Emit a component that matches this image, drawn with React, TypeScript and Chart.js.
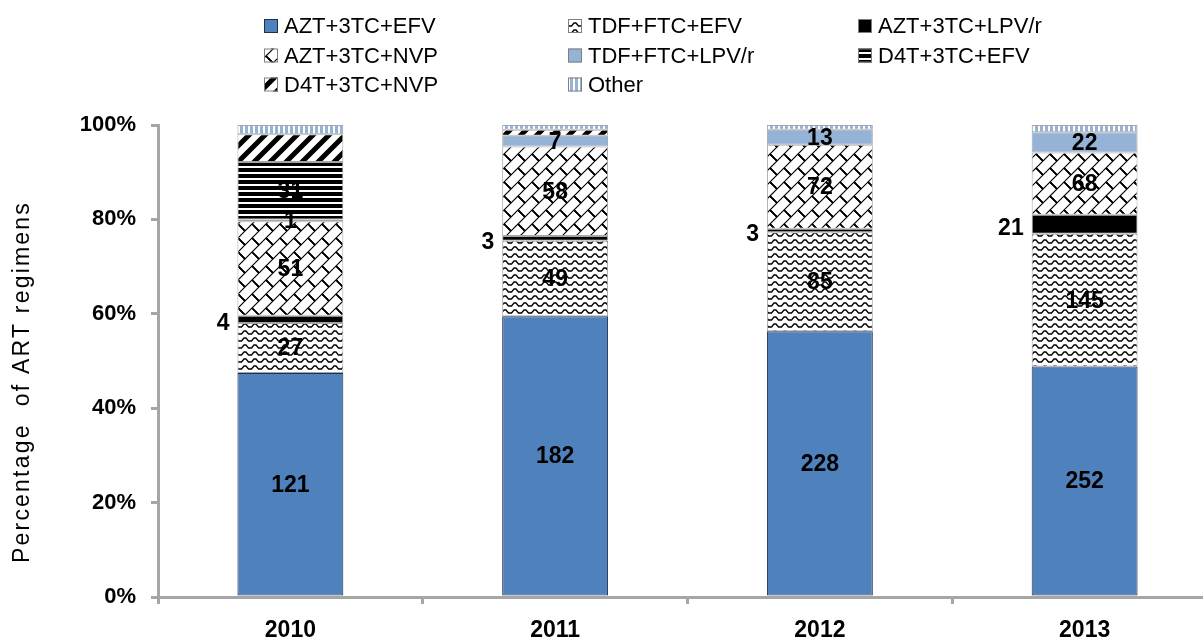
import React, { useEffect, useRef } from "react";
import { Chart, registerables } from "chart.js";

Chart.register(...registerables);

// ---- data ----
const years = ["2010", "2011", "2012", "2013"];
const regimens = [
  "AZT+3TC+EFV",
  "TDF+FTC+EFV",
  "AZT+3TC+LPV/r",
  "AZT+3TC+NVP",
  "TDF+FTC+LPV/r",
  "D4T+3TC+EFV",
  "D4T+3TC+NVP",
  "Other",
];
const aztEfv = [121, 182, 228, 252];
const tdfEfv = [27, 49, 85, 145];
const aztLpv = [4, 3, 3, 21];
const aztNvp = [51, 58, 72, 68];
const tdfLpv = [1, 7, 13, 22];
const d4tEfv = [31, 0, 0, 0];
const d4tNvp = [15, 4, 0, 0];
const other = [5, 3, 4, 8];
const yTicks = [0, 20, 40, 60, 80, 100];
// series whose counts are printed on the bars
const showCount = [true, true, true, true, true, true, false, false];

const counts = [aztEfv, tdfEfv, aztLpv, aztNvp, tdfLpv, d4tEfv, d4tNvp, other];
const totals = years.map((_, j) => counts.reduce((s, arr) => s + arr[j], 0));
const percents = counts.map((arr) => arr.map((v, j) => (v / totals[j]) * 100));

const FONT = '"Liberation Sans", Arial, sans-serif';
const BLUE = "#4F81BD";
const LIGHT = "#95B3D7";

function makePattern(w: number, h: number, draw: (c: CanvasRenderingContext2D) => void) {
  const cv = document.createElement("canvas");
  cv.width = w;
  cv.height = h;
  const c = cv.getContext("2d") as CanvasRenderingContext2D;
  c.fillStyle = "#fff";
  c.fillRect(0, 0, w, h);
  draw(c);
  return c.createPattern(cv, "repeat") as CanvasPattern;
}

function wrapped(c: CanvasRenderingContext2D, w: number, h: number, seg: () => void) {
  for (const dx of [-w, 0, w]) {
    for (const dy of [-h, 0, h]) {
      c.save();
      c.translate(dx, dy);
      seg();
      c.restore();
    }
  }
}

function buildFills() {
  const wave = makePattern(10, 7, (c) => {
    c.strokeStyle = "#000";
    c.lineWidth = 1.3;
    wrapped(c, 10, 7, () => {
      c.beginPath();
      c.moveTo(0, 5);
      c.lineTo(1.5, 5);
      c.lineTo(4, 2);
      c.lineTo(6, 2);
      c.lineTo(8.5, 5);
      c.lineTo(10, 5);
      c.stroke();
    });
  });
  const U = 14;
  const T = U * 2;
  const brick = makePattern(T, T, (c) => {
    c.strokeStyle = "#000";
    c.lineWidth = 1.2;
    c.beginPath();
    for (let k = -U; k <= 2 * T + U; k += U) {
      c.moveTo(k + 2, -2);
      c.lineTo(-2, k + 2);
    }
    c.stroke();
    wrapped(c, T, T, () => {
      c.beginPath();
      for (let r = 0; r < 4; r++) {
        const v0 = r * U;
        for (let m = -3; m <= 3; m++) {
          const u = (r % 2) * (U / 2) + U * m;
          const sx = v0 / 2 + u;
          const sy = v0 / 2 - u;
          c.moveTo(sx, sy);
          c.lineTo(sx + U / 2, sy + U / 2);
        }
      }
      c.stroke();
    });
  });
  const hstripe = makePattern(6, 6, (c) => {
    c.fillStyle = "#000";
    c.fillRect(0, 0, 6, 4);
  });
  const wdiag = makePattern(16, 16, (c) => {
    c.strokeStyle = "#000";
    c.lineWidth = 5;
    c.beginPath();
    for (let k = -16; k <= 48; k += 16) {
      c.moveTo(k + 4, -4);
      c.lineTo(-4, k + 4);
    }
    c.stroke();
  });
  const vstripe = makePattern(5, 5, (c) => {
    c.fillStyle = LIGHT;
    c.fillRect(0, 0, 3, 5);
  });
  return [BLUE, wave, "#000", brick, LIGHT, hstripe, wdiag, vstripe];
}

const borderColors = ["#1F2F45", "#A6A6A6", "#A6A6A6", "#A6A6A6", "#A6A6A6", "#A6A6A6", "#A6A6A6", "#A6A6A6"];

export default function App() {
  const ref = useRef<HTMLCanvasElement | null>(null);

  useEffect(() => {
    if (!ref.current) return;
    const fills = buildFills();

    const overlay = {
      id: "overlay",
      afterDatasetsDraw(chart: any) {
        const ctx = chart.ctx as CanvasRenderingContext2D;
        ctx.save();
        ctx.font = `bold 23px ${FONT}`;
        ctx.fillStyle = "#000";
        ctx.textBaseline = "middle";
        chart.data.datasets.forEach((_: any, i: number) => {
          if (!showCount[i]) return;
          const meta = chart.getDatasetMeta(i);
          meta.data.forEach((bar: any, j: number) => {
            const v = counts[i][j];
            if (!v) return;
            const p = bar.getProps(["x", "y", "base", "width"], true);
            const cy = (p.y + p.base) / 2;
            if (i === 2) {
              ctx.textAlign = "right";
              ctx.fillText(String(v), p.x - p.width / 2 - 8, cy + 4);
            } else {
              ctx.textAlign = "center";
              ctx.fillText(String(v), p.x, cy + 1);
            }
          });
        });
        ctx.restore();
      },
      afterDraw(chart: any) {
        const ctx = chart.ctx as CanvasRenderingContext2D;
        ctx.save();
        // legend
        const colX = [264, 568, 858];
        const rowY = [26, 55.5, 84.5];
        ctx.font = `22px ${FONT}`;
        ctx.textBaseline = "middle";
        ctx.textAlign = "left";
        regimens.forEach((name, i) => {
          const x = colX[i % 3];
          const y = rowY[Math.floor(i / 3)];
          ctx.fillStyle = fills[i] as any;
          ctx.fillRect(x, y - 7, 14, 14);
          ctx.strokeStyle = i === 0 ? "#1F2F45" : "#7F7F7F";
          ctx.lineWidth = 1;
          ctx.strokeRect(x + 0.5, y - 6.5, 13, 13);
          ctx.fillStyle = "#000";
          ctx.fillText(name, x + 20, y + 1);
        });
        // y-axis title
        ctx.translate(23, 382);
        ctx.rotate(-Math.PI / 2);
        ctx.font = `23px ${FONT}`;
        (ctx as any).letterSpacing = "2.2px";
        ctx.textAlign = "center";
        ctx.fillStyle = "#000";
        ctx.fillText("Percentage  of ART regimens", 0, 0);
        ctx.restore();
      },
    };

    const chart = new Chart(ref.current, {
      type: "bar",
      data: {
        labels: years,
        datasets: regimens.map((name, i) => ({
          label: name,
          data: percents[i],
          backgroundColor: fills[i] as any,
          borderColor: borderColors[i],
          borderWidth: 1,
          borderSkipped: false,
          barPercentage: 0.4,
          categoryPercentage: 1,
        })),
      },
      options: {
        animation: false,
        responsive: true,
        maintainAspectRatio: false,
        devicePixelRatio: 1,
        layout: { padding: { top: 125, right: 3, left: 0, bottom: 0 } },
        plugins: {
          legend: { display: false },
          tooltip: { enabled: false },
          title: { display: false },
        },
        scales: {
          x: {
            stacked: true,
            grid: {
              display: true,
              drawOnChartArea: false,
              drawTicks: true,
              tickLength: 7,
              color: "#A6A6A6",
              lineWidth: 3,
              offset: true,
            },
            border: { display: true, color: "#A6A6A6", width: 3 },
            ticks: {
              color: "#000",
              font: { family: FONT, size: 23, weight: "bold" },
              padding: 13,
              maxRotation: 0,
            },
            afterFit(s: any) {
              s.height = 45;
            },
          },
          y: {
            stacked: true,
            min: 0,
            max: 100,
            afterBuildTicks(s: any) {
              s.ticks = yTicks.map((v) => ({ value: v }));
            },
            ticks: {
              callback: (v: any) => `${v}%`,
              color: "#000",
              font: { family: FONT, size: 22, weight: "bold" },
              padding: 15,
            },
            grid: {
              drawOnChartArea: false,
              drawTicks: true,
              tickLength: 7,
              color: "#A6A6A6",
              lineWidth: 3,
            },
            border: { display: true, color: "#A6A6A6", width: 3 },
            afterFit(s: any) {
              s.width = 158;
            },
          },
        },
      },
      plugins: [overlay],
    });
    return () => chart.destroy();
  }, []);

  return (
    <div
      style={{
        position: "fixed",
        left: 0,
        top: 0,
        width: 1203,
        height: 642,
        overflow: "hidden",
        background: "#fff",
      }}
    >
      <div style={{ position: "relative", width: 1220, height: 642 }}>
        <canvas ref={ref} />
      </div>
    </div>
  );
}
